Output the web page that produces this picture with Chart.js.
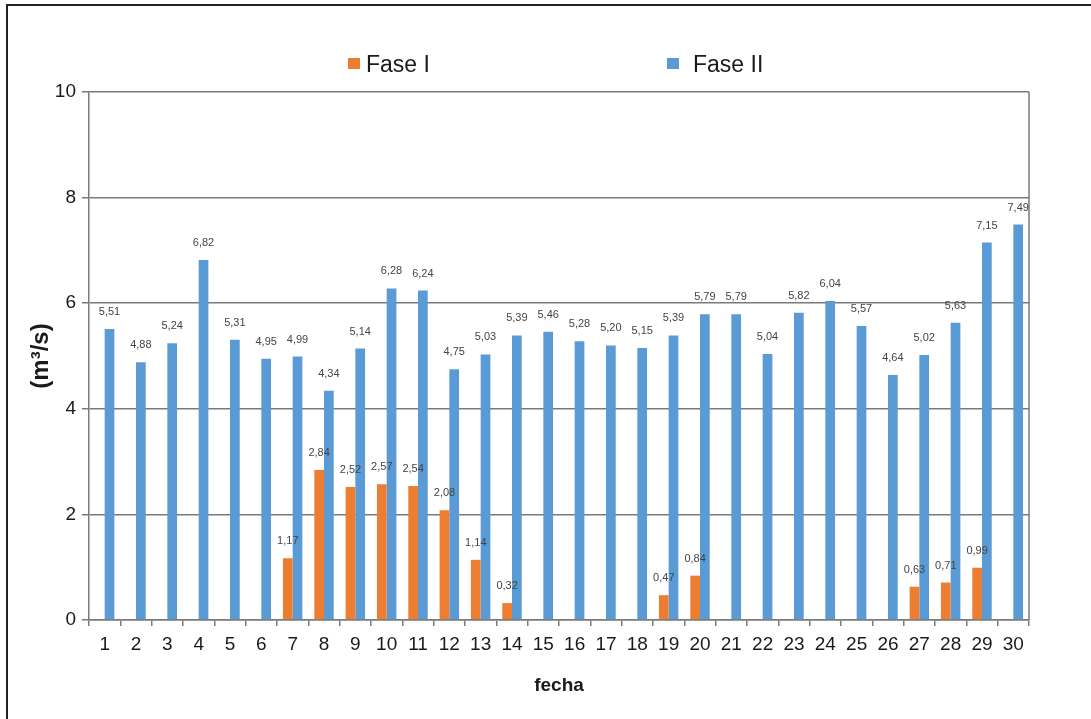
<!DOCTYPE html>
<html>
<head>
<meta charset="utf-8">
<script src="https://cdn.jsdelivr.net/npm/chart.js@4/dist/chart.umd.min.js"></script>
<style>
  html, body { margin: 0; padding: 0; background: #ffffff; overflow: hidden; }
  #wrap { position: relative; width: 1091px; height: 719px; }
  #frame { position: absolute; left: 6px; top: 4px; width: 1200px; height: 800px;
           border-left: 2px solid #222; border-top: 2px solid #222; pointer-events: none; }
  canvas { position: absolute; left: 0; top: 0; }
</style>
</head>
<body>
<div id="wrap">
  <canvas id="chart" width="1091" height="719"></canvas>
  <div id="frame"></div>
</div>
<script>
// Days of the measurement campaign
const fechas = ['1','2','3','4','5','6','7','8','9','10','11','12','13','14','15',
                '16','17','18','19','20','21','22','23','24','25','26','27','28','29','30'];

// Flow (m³/s), phase I — only measured on some days
const faseI = [null, null, null, null, null, null, 1.17, 2.84, 2.52, 2.57, 2.54, 2.08, 1.14, 0.32, null,
               null, null, null, 0.47, 0.84, null, null, null, null, null, null, 0.63, 0.71, 0.99, null];

// Flow (m³/s), phase II
const faseII = [5.51, 4.88, 5.24, 6.82, 5.31, 4.95, 4.99, 4.34, 5.14, 6.28, 6.24, 4.75, 5.03, 5.39, 5.46,
                5.28, 5.20, 5.15, 5.39, 5.79, 5.79, 5.04, 5.82, 6.04, 5.57, 4.64, 5.02, 5.63, 7.15, 7.49];

const seriesNames = ['Fase I', 'Fase II'];
const yTicks = [0, 2, 4, 6, 8, 10];

const ORANGE = '#ED7D31';
const BLUE = '#5B9BD5';
const GRID = '#7a7a7a';
const FONT = 'Arial, "Liberation Sans", sans-serif';

// Value labels above each bar, decimal comma
const valueLabels = {
  id: 'valueLabels',
  afterDatasetsDraw(chart) {
    const ctx = chart.ctx;
    ctx.save();
    ctx.font = '11px ' + FONT;
    ctx.fillStyle = '#444444';
    ctx.textAlign = 'center';
    ctx.textBaseline = 'middle';
    chart.data.datasets.forEach((ds, i) => {
      const meta = chart.getDatasetMeta(i);
      meta.data.forEach((bar, j) => {
        const v = ds.data[j];
        if (v === null || v === undefined) return;
        ctx.fillText(v.toFixed(2).replace('.', ','), bar.x, bar.y - 17);
      });
    });
    ctx.restore();
  }
};

// Right edge of the plot frame
const plotFrame = {
  id: 'plotFrame',
  beforeDatasetsDraw(chart) {
    const { ctx, chartArea: a } = chart;
    ctx.save();
    ctx.strokeStyle = GRID;
    ctx.lineWidth = 1.5;
    ctx.beginPath();
    ctx.moveTo(a.right, a.top);
    ctx.lineTo(a.right, a.bottom);
    ctx.stroke();
    ctx.restore();
  }
};

// Legend spread across the top
const topLegend = {
  id: 'topLegend',
  afterDraw(chart) {
    const ctx = chart.ctx;
    const items = [
      { box: [348, 58, 12, 11], textX: 366 },
      { box: [667, 58, 12, 11], textX: 693 }
    ];
    ctx.save();
    ctx.font = '23px ' + FONT;
    ctx.textBaseline = 'alphabetic';
    ctx.textAlign = 'left';
    chart.data.datasets.forEach((ds, i) => {
      const it = items[i];
      ctx.fillStyle = ds.backgroundColor;
      ctx.fillRect(it.box[0], it.box[1], it.box[2], it.box[3]);
      ctx.fillStyle = '#1a1a1a';
      ctx.fillText(ds.label, it.textX, 72);
    });
    ctx.restore();
  }
};

new Chart(document.getElementById('chart'), {
  type: 'bar',
  data: {
    labels: fechas,
    datasets: [
      { label: seriesNames[0], data: faseI, backgroundColor: ORANGE,
        categoryPercentage: 0.62, barPercentage: 1.0 },
      { label: seriesNames[1], data: faseII, backgroundColor: BLUE,
        categoryPercentage: 0.62, barPercentage: 1.0 }
    ]
  },
  options: {
    responsive: false,
    animation: false,
    devicePixelRatio: 1,
    layout: { padding: { top: 92, right: 62, bottom: 0, left: 0 } },
    plugins: {
      legend: { display: false },
      tooltip: { enabled: false }
    },
    scales: {
      x: {
        grid: { offset: true, drawOnChartArea: false, drawTicks: true, tickLength: 6,
                color: GRID, lineWidth: 1.5 },
        border: { color: GRID, width: 1.5 },
        ticks: { color: '#1a1a1a', font: { family: FONT, size: 19 }, padding: 7,
                 maxRotation: 0, autoSkip: false },
        title: { display: true, text: 'fecha', color: '#1a1a1a',
                 font: { family: FONT, size: 19, weight: 'bold' },
                 padding: { top: 0, bottom: 22 } },
        afterFit(scale) { scale.height = 99; }
      },
      y: {
        min: 0, max: 10,
        afterBuildTicks(scale) { scale.ticks = yTicks.map(v => ({ value: v })); },
        grid: { color: GRID, lineWidth: 1.5, drawTicks: true, tickLength: 7 },
        border: { color: GRID, width: 1.5 },
        ticks: { color: '#1a1a1a', font: { family: FONT, size: 19 }, padding: 6 },
        title: { display: true, text: '(m³/s)', color: '#1a1a1a',
                 font: { family: FONT, size: 24, weight: 'bold' },
                 padding: { top: 27, bottom: 0 } },
        afterFit(scale) { scale.width = 89; }
      }
    }
  },
  plugins: [plotFrame, valueLabels, topLegend]
});
</script>
</body>
</html>
